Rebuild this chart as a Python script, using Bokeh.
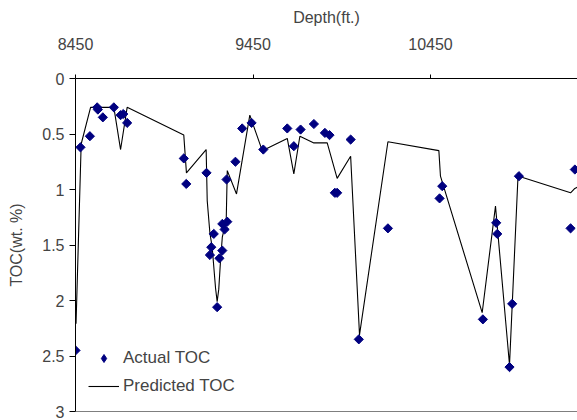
import math
from bokeh.plotting import figure
from bokeh.models import Range1d, FixedTicker, Legend, LegendItem, Span, ColumnDataSource
from bokeh.embed import file_html
from bokeh.resources import INLINE

# Measured TOC from core samples
actual_depth = [8450, 8478, 8531, 8572, 8576, 8604, 8666, 8704, 8719, 8741,
                9060, 9074, 9188, 9301, 9229, 9215, 9207, 9277, 9305, 9290,
                9277, 9261, 9248, 9351, 9389, 9442, 9508, 9643, 9680, 9718,
                9793, 9855, 9881, 10000, 9911, 9924, 10210, 10046, 10516, 10501,
                10745, 10820, 10826, 10895, 10910, 10948, 11239, 11263]
actual_toc = [2.45, 0.62, 0.52, 0.26, 0.28, 0.35, 0.26, 0.33, 0.32, 0.40,
              0.72, 0.95, 0.85, 0.91, 1.40, 1.52, 1.59, 1.31, 1.29, 1.36,
              1.55, 1.62, 2.06, 0.75, 0.45, 0.40, 0.64, 0.45, 0.61, 0.46,
              0.41, 0.49, 0.51, 0.55, 1.03, 1.03, 1.35, 2.35, 0.97, 1.08,
              2.17, 1.30, 1.40, 2.60, 2.03, 0.88, 1.35, 0.82]

# Model-predicted TOC curve
pred_depth = [8453, 8482, 8535, 8666, 8704, 8741, 9060, 9075, 9186, 9192,
              9207, 9220, 9239, 9248, 9257, 9267, 9277, 9299, 9305, 9357,
              9432, 9502, 9643, 9680, 9714, 9793, 9868, 9924, 10000, 10050,
              10210, 10497, 10506, 10741, 10816, 10895, 10942, 10947, 11239, 11263,
              11290]
pred_toc = [2.21, 0.59, 0.26, 0.26, 0.64, 0.26, 0.51, 0.85, 0.64, 1.10,
            1.39, 1.52, 1.89, 2.01, 1.90, 1.64, 1.43, 1.28, 0.83, 1.04,
            0.33, 0.65, 0.54, 0.86, 0.52, 0.58, 0.58, 0.90, 0.70, 2.31,
            0.57, 0.65, 0.88, 2.11, 1.15, 2.58, 0.91, 0.88, 1.03, 0.99,
            0.97]

depth_ticks = [8450, 9450, 10450]
toc_ticks = [0, 0.5, 1, 1.5, 2, 2.5, 3]
toc_tick_labels = ["0", "0.5", "1", "1.5", "2", "2.5", "3"]

FONT = "Liberation Sans"
FS = "16px"
NAVY = "#000080"

p = figure(width=577, height=420, output_backend="svg", toolbar_location=None,
           x_range=Range1d(8450, 11278), y_range=Range1d(3, 0),
           x_axis_location="above",
           min_border_left=75, min_border_top=78, min_border_right=0,
           min_border_bottom=9)
p.grid.visible = False
p.outline_line_color = None
p.background_fill_color = "white"
p.border_fill_color = "white"

xa = p.xaxis[0]
xa.ticker = FixedTicker(ticks=depth_ticks)
xa.axis_label = "Depth(ft.)"
xa.axis_label_text_font = FONT
xa.axis_label_text_font_size = FS
xa.axis_label_text_font_style = "normal"
xa.axis_label_standoff = 9
xa.major_label_text_font = FONT
xa.major_label_text_font_size = FS
xa.major_label_standoff = 25
xa.major_tick_out = 4
xa.major_tick_in = 0
xa.minor_tick_out = 0
xa.minor_tick_in = 0
xa.axis_line_color = "black"
xa.major_tick_line_color = "black"

ya = p.yaxis[0]
ya.ticker = FixedTicker(ticks=toc_ticks)
ya.major_label_overrides = {float(t): s for t, s in zip(toc_ticks, toc_tick_labels)}
ya.axis_label = "TOC(wt. %)"
ya.axis_label_text_font = FONT
ya.axis_label_text_font_size = FS
ya.axis_label_text_font_style = "normal"
ya.axis_label_standoff = 14
ya.major_label_text_font = FONT
ya.major_label_text_font_size = FS
ya.major_label_standoff = 5
ya.major_tick_out = 6
ya.major_tick_in = 0
ya.minor_tick_out = 0
ya.minor_tick_in = 0
ya.axis_line_color = "black"
ya.major_tick_line_color = "black"

p.add_layout(Span(location=3, dimension="width", line_color="black", line_width=1))

pred_src = ColumnDataSource(dict(depth=pred_depth, toc=pred_toc))
act_src = ColumnDataSource(dict(depth=actual_depth, toc=actual_toc))

line = p.line("depth", "toc", source=pred_src, line_color="black", line_width=1.1)
pts = p.scatter("depth", "toc", source=act_src, marker="square", angle=math.pi / 4,
                size=6.5, fill_color=NAVY, line_color=NAVY)

# legend swatch: an upright diamond placed outside the visible depth range
swatch = p.scatter(x=[8000], y=[1.0], marker="diamond", size=11,
                   fill_color=NAVY, line_color=NAVY)

legend = Legend(items=[LegendItem(label="Actual TOC", renderers=[swatch]),
                       LegendItem(label="Predicted TOC", renderers=[line])],
                location=(13, 15), border_line_color=None, background_fill_alpha=0,
                padding=0, margin=0, spacing=8, glyph_width=31, glyph_height=20,
                label_standoff=4, label_text_font=FONT, label_text_font_size="17px",
                label_height=20)
p.add_layout(legend)

open("out.html", "w").write(file_html(p, INLINE))
